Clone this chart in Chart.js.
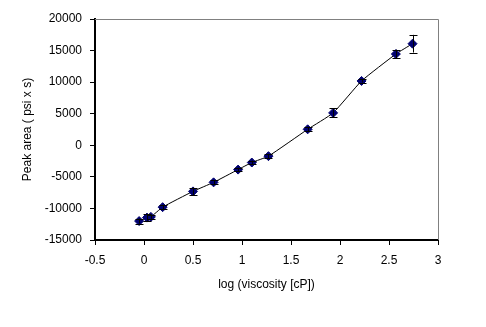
<!DOCTYPE html>
<html>
<head>
<meta charset="utf-8">
<script src="https://cdn.jsdelivr.net/npm/chart.js@4/dist/chart.umd.min.js"></script>
<style>
  html, body { margin: 0; padding: 0; background: #fff; }
  #wrap { width: 486px; height: 327px; }
</style>
</head>
<body>
<div id="wrap"><canvas id="grafico"></canvas></div>
<script>
// valores
const logVisc  = [-0.05, 0.03, 0.07, 0.19, 0.50, 0.71, 0.96, 1.10, 1.27, 1.67, 1.93, 2.22, 2.57, 2.74];
const peakArea = [-12000, -11450, -11340, -9800, -7300, -5870, -3850, -2730, -1720, 2530, 5130, 10190, 14450, 16090];
const errArea  = [400, 500, 300, 300, 600, 300, 300, 300, 300, 300, 700, 250, 700, 1400];

const xTicks = { min: -0.5, max: 3, step: 0.5 };
const yTicks = { min: -15000, max: 20000, step: 5000 };

const puntos = logVisc.map((x, i) => ({ x: x, y: peakArea[i] }));

// barras de error verticales con tope
const barrasError = {
    id: 'barrasError',
    afterDatasetsDraw(chart) {
        const ctx = chart.ctx;
        const xs = chart.scales.x, ys = chart.scales.y;
        ctx.save();
        ctx.strokeStyle = '#000';
        ctx.lineWidth = 1;
        logVisc.forEach((x, i) => {
            const px = Math.round(xs.getPixelForValue(x)) + 0.5;
            const top = ys.getPixelForValue(peakArea[i] + errArea[i]);
            const bot = ys.getPixelForValue(peakArea[i] - errArea[i]);
            ctx.beginPath();
            ctx.moveTo(px, top); ctx.lineTo(px, bot);
            ctx.moveTo(px - 4, Math.round(top) + 0.5); ctx.lineTo(px + 4, Math.round(top) + 0.5);
            ctx.moveTo(px - 4, Math.round(bot) + 0.5); ctx.lineTo(px + 4, Math.round(bot) + 0.5);
            ctx.stroke();
        });
        ctx.restore();
    }
};

// marco gris arriba y a la derecha
const marco = {
    id: 'marco',
    beforeDatasetsDraw(chart) {
        const a = chart.chartArea, ctx = chart.ctx;
        ctx.save();
        ctx.strokeStyle = '#808080';
        ctx.lineWidth = 1;
        ctx.beginPath();
        ctx.moveTo(a.left, a.top + 0.5);
        ctx.lineTo(a.right + 0.5, a.top + 0.5);
        ctx.lineTo(a.right + 0.5, a.bottom);
        ctx.stroke();
        ctx.restore();
    }
};

const fuente = { family: '"Liberation Sans", Arial, sans-serif', size: 12 };

new Chart(document.getElementById('grafico'), {
    type: 'scatter',
    data: {
        datasets: [
            {
                data: puntos,
                pointStyle: 'rectRot',
                pointRadius: 4.5,
                backgroundColor: '#000070',
                borderColor: '#000070',
                borderWidth: 1
            },
            {
                type: 'line',
                data: puntos,
                showLine: true,
                tension: 0.15,
                borderColor: '#000',
                borderWidth: 1,
                pointRadius: 0,
                fill: false
            }
        ]
    },
    options: {
        responsive: true,
        maintainAspectRatio: false,
        animation: false,
        layout: { padding: { left: 16, top: 19, right: 48, bottom: 31 } },
        plugins: {
            legend: { display: false },
            tooltip: { enabled: false }
        },
        scales: {
            x: {
                type: 'linear',
                min: xTicks.min,
                max: xTicks.max,
                afterFit: s => { s.height = 56; },
                ticks: {
                    stepSize: xTicks.step,
                    color: '#000',
                    font: fuente,
                    padding: 8,
                    maxRotation: 0,
                    callback: v => String(v)
                },
                grid: { drawOnChartArea: false, tickLength: 5, color: '#000', tickWidth: 1 },
                border: { color: '#000', width: 2 },
                title: { display: true, text: 'log (viscosity [cP])', color: '#000', font: fuente, padding: { top: 4, bottom: 4 } }
            },
            y: {
                min: yTicks.min,
                max: yTicks.max,
                afterFit: s => { s.width = 79; },
                ticks: {
                    stepSize: yTicks.step,
                    color: '#000',
                    font: fuente,
                    padding: 8,
                    callback: v => String(v)
                },
                grid: { drawOnChartArea: false, tickLength: 5, color: '#000', tickWidth: 1 },
                border: { color: '#000', width: 2 },
                title: { display: true, text: 'Peak area ( psi x s)', color: '#000', font: fuente, padding: { top: 4, bottom: 4 } }
            }
        }
    },
    plugins: [marco, barrasError]
});
</script>
</body>
</html>
